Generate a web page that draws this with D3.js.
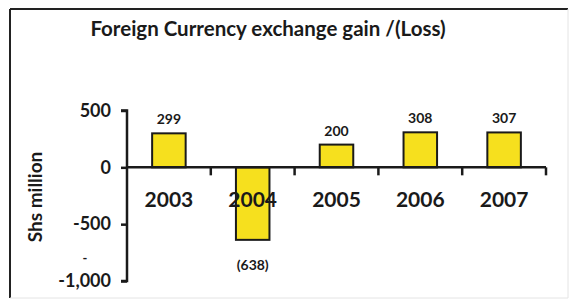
<!DOCTYPE html>
<html>
<head>
<meta charset="utf-8">
<script src="https://cdn.jsdelivr.net/npm/d3@7"></script>
<style>
  body { margin: 0; background: #fff; }
  text { font-family: "Lato", "DejaVu Sans", sans-serif; fill: #1a1a1a; }
</style>
</head>
<body>
<svg width="572" height="303"></svg>
<script>
var years = ["2003", "2004", "2005", "2006", "2007"];
var values = [299, -638, 200, 308, 307];
var valueLabels = ["299", "(638)", "200", "308", "307"];
var yTicks = [500, 0, -500, -1000];

var svg = d3.select("svg"),
    width = +svg.attr("width"),
    height = +svg.attr("height");

// frame
svg.append("line").attr("x1", 10).attr("y1", 9).attr("x2", 568).attr("y2", 9)
    .attr("stroke", "#222").attr("stroke-width", 2);
svg.append("line").attr("x1", 10).attr("y1", 9).attr("x2", 10).attr("y2", 298)
    .attr("stroke", "#222").attr("stroke-width", 2);
svg.append("line").attr("x1", 568).attr("y1", 9).attr("x2", 568).attr("y2", 298)
    .attr("stroke", "#e4e4e4").attr("stroke-width", 1);
svg.append("line").attr("x1", 10).attr("y1", 298).attr("x2", 568).attr("y2", 298)
    .attr("stroke", "#e4e4e4").attr("stroke-width", 1);

svg.append("text")
    .attr("x", 268).attr("y", 36)
    .attr("text-anchor", "middle")
    .style("font-size", "20.5px").style("font-weight", "bold")
    .text("Foreign Currency exchange gain /(Loss)");

var x = d3.scaleBand()
    .domain(years)
    .range([127, 546])
    .paddingInner(0.6).paddingOuter(0.3);

var y = d3.scaleLinear()
    .domain([-1000, 500])
    .range([281, 110.5]);

var fmt = d3.format(",");

// y axis
var yAxis = svg.append("g")
    .attr("transform", "translate(127,0)")
    .call(d3.axisLeft(y).tickValues(yTicks).tickSize(6).tickPadding(10)
        .tickFormat(function(d) { return fmt(d).replace("\u2212", "-"); }));
yAxis.select(".domain").attr("stroke", "#1a1a1a").attr("stroke-width", 2.5)
    .attr("d", "M-6," + y(500) + "H0V" + y(-1000) + "H-6");
yAxis.selectAll(".tick line").attr("stroke", "#1a1a1a").attr("stroke-width", 2.5);
yAxis.selectAll(".tick text")
    .style("font-size", "18px").style("font-weight", "bold")
    .style("font-family", "Lato, 'DejaVu Sans', sans-serif").attr("fill", "#1a1a1a");

// stray dash from the source
svg.append("text").attr("x", 85).attr("y", 263).attr("text-anchor", "middle")
    .style("font-size", "13px").style("font-weight", "bold").text("-");

svg.append("text")
    .attr("transform", "translate(42,197) rotate(-90)")
    .attr("text-anchor", "middle")
    .style("font-size", "19px").style("font-weight", "bold")
    .text("Shs million");

// bars
svg.selectAll(".bar")
    .data(values)
    .enter().append("rect")
        .attr("class", "bar")
        .attr("x", function(d, i) { return x(years[i]); })
        .attr("y", function(d) { return y(Math.max(0, d)); })
        .attr("width", x.bandwidth())
        .attr("height", function(d) { return Math.abs(y(d) - y(0)); })
        .attr("fill", "#f6e01e")
        .attr("stroke", "#1a1a1a")
        .attr("stroke-width", 2);

// x axis along zero
var step = x.step();
var xs = years.map(function(d) { return x(d) + x.bandwidth() / 2 + step / 2; });
svg.append("line")
    .attr("x1", 127).attr("x2", 546).attr("y1", y(0)).attr("y2", y(0))
    .attr("stroke", "#1a1a1a").attr("stroke-width", 2.5);
svg.selectAll(".xtick")
    .data(xs)
    .enter().append("line")
        .attr("class", "xtick")
        .attr("x1", function(d) { return d; }).attr("x2", function(d) { return d; })
        .attr("y1", y(0)).attr("y2", y(0) + 8)
        .attr("stroke", "#1a1a1a").attr("stroke-width", 2.5);

svg.selectAll(".year")
    .data(years)
    .enter().append("text")
        .attr("class", "year")
        .attr("x", function(d) { return x(d) + x.bandwidth() / 2; })
        .attr("y", 207)
        .attr("text-anchor", "middle")
        .style("font-size", "21px").style("font-weight", "bold")
        .text(function(d) { return d; });

svg.selectAll(".vlabel")
    .data(values)
    .enter().append("text")
        .attr("class", "vlabel")
        .attr("x", function(d, i) { return x(years[i]) + x.bandwidth() / 2; })
        .attr("y", function(d) { return d >= 0 ? y(d) - 9 : y(d) + 30; })
        .attr("text-anchor", "middle")
        .style("font-size", "14px").style("font-weight", "bold")
        .text(function(d, i) { return valueLabels[i]; });
</script>
</body>
</html>
